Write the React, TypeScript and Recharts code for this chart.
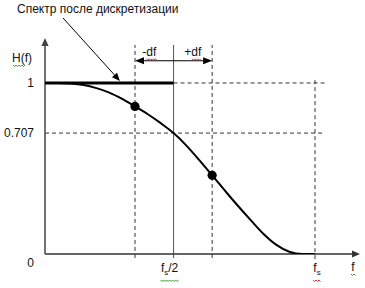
import React from "react";
import {
  ComposedChart,
  Line,
  XAxis,
  YAxis,
  ReferenceLine,
  ReferenceDot,
} from "recharts";

// Frequency in arbitrary units along the axis (0 .. 98), gain H(f)
const freq = [0, 4, 8, 12, 16, 20, 24, 28, 32, 36, 40, 44, 48, 52, 56, 60, 64, 68, 72, 76, 80, 84];
const response = [
  1, 1, 0.997, 0.988, 0.97, 0.944, 0.907, 0.863, 0.817, 0.765, 0.707, 0.634,
  0.549, 0.46, 0.37, 0.282, 0.198, 0.117, 0.053, 0.013, 0, 0,
];
// ideal spectrum after sampling: flat up to fs/2
const spectrum = [
  1, 1, 1, 1, 1, 1, 1, 1, 1, 1, 1, null, null, null, null, null, null, null,
  null, null, null, null,
];

const FS_HALF = 40;
const DF = 12;
const FS = 84;
const F_MAX = 98;
const H_MAX = 1.263;
const GUIDE_END = 87;

const yTicks = [0, 0.707, 1];
const xTicks = [FS_HALF, FS];
const marked = [FS_HALF - DF, FS_HALF + DF];

const CAPTION = "Спектр после дискретизации";

const data = freq.map((f, i) => ({ f, h: response[i], s: spectrum[i] }));

const FONT = '"Liberation Sans", Arial, sans-serif';
const INK = "#111";

// word-processor style wavy underline
function wave(x: number, y: number, w: number) {
  let d = `M${x},${y}`;
  let up = true;
  for (let i = 1.5; i <= w; i += 1.5) {
    d += ` L${x + i},${up ? y + 1.5 : y}`;
    up = !up;
  }
  return d;
}

function head(xa: number, ya: number, xb: number, yb: number, len = 8, half = 3.6) {
  const d = Math.hypot(xb - xa, yb - ya) || 1;
  const ux = (xb - xa) / d;
  const uy = (yb - ya) / d;
  const bx = xb - ux * len;
  const by = yb - uy * len;
  return `${xb},${yb} ${bx - uy * half},${by + ux * half} ${bx + uy * half},${by - ux * half}`;
}

// line with arrowhead(s), used by ReferenceLine segments
const arrow =
  (color: string, width: number, both = false, len = 8, half = 3.6) =>
  (p: any) => {
    const { x1, y1, x2, y2 } = p;
    const d = Math.hypot(x2 - x1, y2 - y1) || 1;
    const ux = (x2 - x1) / d;
    const uy = (y2 - y1) / d;
    const sx = both ? x1 + ux * len : x1;
    const sy = both ? y1 + uy * len : y1;
    return (
      <g>
        <line
          x1={sx}
          y1={sy}
          x2={x2 - ux * (len - 1)}
          y2={y2 - uy * (len - 1)}
          stroke={color}
          strokeWidth={width}
        />
        <polygon points={head(x1, y1, x2, y2, len, half)} fill={color} />
        {both && <polygon points={head(x2, y2, x1, y1, len, half)} fill={color} />}
      </g>
    );
  };

type Note = {
  content: React.ReactNode;
  anchor?: "start" | "middle" | "end";
  dx?: number;
  dy?: number;
  under?: [number, number, string];
};

const note =
  ({ content, anchor = "start", dx = 0, dy = 0, under }: Note) =>
  (p: any) => {
    const x = p.cx + dx;
    const y = p.cy + dy;
    return (
      <g>
        <text x={x} y={y} textAnchor={anchor} fontSize={12} fontFamily={FONT} fill={INK}>
          {content}
        </text>
        {under && (
          <path d={wave(x + under[0], y + 3, under[1])} stroke={under[2]} strokeWidth={1} fill="none" />
        )}
      </g>
    );
  };

const YTick = (p: any) => {
  const v = p.payload.value;
  return (
    <text
      x={p.x - 3}
      y={p.y + (v === 0 ? 9 : 0)}
      dy="0.35em"
      textAnchor="end"
      fontSize={12}
      fontFamily={FONT}
      fill={INK}
    >
      {v}
    </text>
  );
};

const XTick = (p: any) => {
  const half = p.payload.value === FS_HALF;
  const x = p.x + (half ? -4 : 2);
  const y = p.y + 10;
  return (
    <g>
      <text x={x} y={y} textAnchor="middle" fontSize={12} fontFamily={FONT} fill={INK}>
        <tspan>f</tspan>
        <tspan fontSize={8} dy={3}>s</tspan>
        {half && <tspan dy={-3}>/2</tspan>}
      </text>
      <path
        d={wave(half ? x - 9 : x - 4, y + 8, half ? 18 : 8)}
        stroke={half ? "#3a9a3a" : "#e03030"}
        strokeWidth={1}
        fill="none"
      />
    </g>
  );
};

const dashed = { stroke: "#333", strokeWidth: 1, strokeDasharray: "4 3" };

export default function App() {
  return (
    <div style={{ position: "absolute", left: 0, top: 0, background: "#fff" }}>
      <ComposedChart
        width={365}
        height={288}
        data={data}
        margin={{ top: 38, right: 5, left: 0, bottom: 0 }}
      >
        <XAxis
          dataKey="f"
          type="number"
          domain={[0, F_MAX]}
          ticks={xTicks}
          tick={<XTick />}
          axisLine={false}
          tickLine={false}
          height={34}
        />
        <YAxis
          type="number"
          domain={[0, H_MAX]}
          ticks={yTicks}
          tick={<YTick />}
          axisLine={false}
          tickLine={false}
          width={45}
          allowDataOverflow
        />

        {/* guide lines */}
        <ReferenceLine ifOverflow="visible" segment={[{ x: 0, y: 0.707 }, { x: GUIDE_END, y: 0.707 }]} {...dashed} />
        <ReferenceLine ifOverflow="visible" segment={[{ x: FS_HALF, y: 1 }, { x: GUIDE_END, y: 1 }]} {...dashed} />
        {marked.map((f) => (
          <ReferenceLine
            key={f}
            ifOverflow="visible"
            segment={[{ x: f, y: -0.023 }, { x: f, y: 1.222 }]}
            {...dashed}
          />
        ))}
        <ReferenceLine ifOverflow="visible" segment={[{ x: FS, y: -0.03 }, { x: FS, y: 1.02 }]} {...dashed} />
        <ReferenceLine
          ifOverflow="visible"
          segment={[{ x: FS_HALF, y: -0.023 }, { x: FS_HALF, y: 1.222 }]}
          stroke="#555"
          strokeWidth={1}
        />

        {/* axes with arrows */}
        <ReferenceLine ifOverflow="visible" segment={[{ x: 0, y: 0 }, { x: 0, y: H_MAX }]} shape={arrow("#444", 1.5)} />
        <ReferenceLine ifOverflow="visible" segment={[{ x: 0, y: 0 }, { x: F_MAX, y: 0 }]} shape={arrow("#333", 1.5)} />

        {/* ±df span */}
        <ReferenceLine
          ifOverflow="visible"
          segment={[{ x: FS_HALF - DF, y: 1.13 }, { x: FS_HALF + DF, y: 1.13 }]}
          shape={arrow("#000", 1.2, true, 9, 3.6)}
        />

        <Line
          dataKey="s"
          type="linear"
          stroke="#000"
          strokeWidth={3}
          dot={false}
          isAnimationActive={false}
        />
        <Line
          dataKey="h"
          type="monotone"
          stroke="#000"
          strokeWidth={2}
          isAnimationActive={false}
          dot={(p: any) =>
            marked.includes(p.payload.f) ? (
              <circle key={p.index} cx={p.cx} cy={p.cy} r={4.6} fill="#000" />
            ) : (
              <g key={p.index} />
            )
          }
          activeDot={false}
        />

        {/* annotation pointer */}
        <ReferenceLine
          ifOverflow="visible"
          segment={[{ x: 5.6, y: 1.38 }, { x: 23.3, y: 1.012 }]}
          shape={arrow("#000", 1, false, 8, 3.4)}
        />

        {/* labels */}
        <ReferenceDot ifOverflow="visible" x={5.6} y={1.38} shape={note({ content: CAPTION, dx: -46, dy: -5 })} />
        <ReferenceDot
          ifOverflow="visible"
          x={0}
          y={H_MAX}
          shape={note({ content: "H(f)", anchor: "end", dx: -13, dy: 24, under: [-19, 12, "#3a9a3a"] })}
        />
        <ReferenceDot
          ifOverflow="visible"
          x={FS_HALF - DF / 2}
          y={1.13}
          shape={note({ content: "-df", anchor: "middle", dx: -5, dy: -5, under: [-3, 11, "#e03030"] })}
        />
        <ReferenceDot
          ifOverflow="visible"
          x={FS_HALF + DF / 2}
          y={1.13}
          shape={note({ content: "+df", anchor: "middle", dy: -5, under: [-1, 10, "#e03030"] })}
        />
        <ReferenceDot
          ifOverflow="visible"
          x={F_MAX}
          y={0}
          shape={note({ content: "f", anchor: "middle", dx: -7, dy: 17, under: [-2, 5, "#3a9a3a"] })}
        />
      </ComposedChart>
    </div>
  );
}
